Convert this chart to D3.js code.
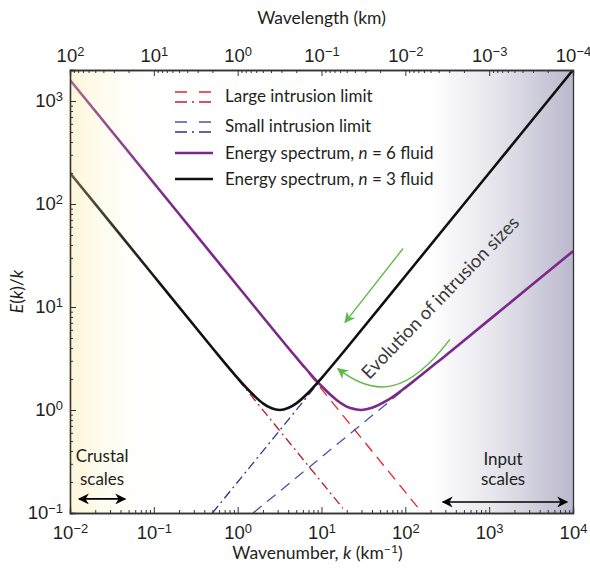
<!DOCTYPE html>
<html>
<head>
<meta charset="utf-8">
<script src="https://cdn.jsdelivr.net/npm/d3@7"></script>
<style>
  body { margin: 0; background: #fff; }
  svg { display: block; font-family: Lato, "Open Sans", sans-serif; }
</style>
</head>
<body>
<div id="chart"></div>
<script>
// ---- data ----
// wavenumber k (km^-1) and E(k)/k for the two spectra
const kN3 = [0.01, 0.1, 0.5, 1, 1.5, 2, 2.5, 3.2, 4, 5, 7, 10, 20, 100, 1000, 10000];
const eN3 = [200, 20, 4.0, 2.04, 1.43, 1.16, 1.045, 1.0, 1.045, 1.16, 1.48, 2.04, 4.0, 20, 200, 2000];
const kN6 = [0.01, 0.1, 1, 5, 10, 15, 20, 25, 30, 40, 60, 100, 300, 1000, 10000];
const eN6 = [1600, 160, 16, 3.24, 1.71, 1.26, 1.08, 1.02, 1.0, 1.05, 1.23, 1.65, 3.37, 7.5, 34.8];

// asymptotic limits (end points)
const largeN3 = [[0.01, 200], [18, 0.111]];
const largeN6 = [[0.01, 1600], [140, 0.114]];
const smallN3 = [[0.5, 0.1], [10000, 2000]];
const smallN6 = [[1.53, 0.1], [10000, 34.8]];

const xTickValues = [1e-2, 1e-1, 1e0, 1e1, 1e2, 1e3, 1e4];
const topTickValues = [1e2, 1e1, 1e0, 1e-1, 1e-2, 1e-3, 1e-4];
const yTickValues = [1e-1, 1e0, 1e1, 1e2, 1e3];

const legendItems = [
  { label: "Large intrusion limit", kind: "large" },
  { label: "Small intrusion limit", kind: "small" },
  { label: "Energy spectrum, ", n: "6", kind: "n6" },
  { label: "Energy spectrum, ", n: "3", kind: "n3" }
];

// annotation anchors (k, E/k)
const arrowStraight = [[94, 37], [19.1, 7.1]];
const arrowCurved = [[340, 4.85], [110, 1.45], [45, 1.28], [15.7, 2.52]];
const crustalArrow = [[0.0128, 0.137], [0.0455, 0.137]];
const inputArrow = [[280, 0.128], [8500, 0.128]];
const evolutionAnchor = [37, 1.95];

// ---- layout ----
const width = 590, height = 568;
const margin = { top: 70, right: 17, bottom: 55, left: 70 };
const colors = {
  n3: "#111",
  n6: "#7b2a8a",
  largeDD: "#bf1e2e",
  largeD: "#e8232b",
  smallDD: "#2b3590",
  smallD: "#4655aa",
  green: "#62b846",
  axis: "#333",
  text: "#231f20"
};

const svg = d3.select("#chart").append("svg")
  .attr("width", width)
  .attr("height", height);

const x = d3.scaleLog()
  .domain([1e-2, 1e4])
  .range([margin.left, width - margin.right]);
const wl = d3.scaleLog()
  .domain([1e2, 1e-4])
  .range([margin.left, width - margin.right]);
const y = d3.scaleLog()
  .domain([1e-1, 2e3])
  .range([height - margin.bottom, margin.top]);

const defs = svg.append("defs");
const gLeft = defs.append("linearGradient").attr("id", "crust");
gLeft.append("stop").attr("offset", 0).attr("stop-color", "#ffe895").attr("stop-opacity", 0.36);
gLeft.append("stop").attr("offset", 0.5).attr("stop-color", "#fff0c0").attr("stop-opacity", 0.14);
gLeft.append("stop").attr("offset", 1).attr("stop-color", "#fff").attr("stop-opacity", 0);
const gRight = defs.append("linearGradient").attr("id", "input");
gRight.append("stop").attr("offset", 0).attr("stop-color", "#fff");
gRight.append("stop").attr("offset", 0.5).attr("stop-color", "#e3e2ea");
gRight.append("stop").attr("offset", 1).attr("stop-color", "#bab8cc");

function marker(id, color, w, h) {
  defs.append("marker")
    .attr("id", id)
    .attr("viewBox", "0 0 10 10")
    .attr("refX", 9).attr("refY", 5)
    .attr("markerUnits", "userSpaceOnUse")
    .attr("markerWidth", w).attr("markerHeight", h)
    .attr("orient", "auto-start-reverse")
    .append("path")
    .attr("d", "M0,0 L10,5 L0,10 L3,5 Z")
    .attr("fill", color);
}
marker("headBlack", "#000", 13, 11);
marker("headGreen", colors.green, 13, 11);

svg.append("clipPath").attr("id", "plot-clip")
  .append("rect")
  .attr("x", margin.left).attr("y", margin.top)
  .attr("width", width - margin.left - margin.right)
  .attr("height", height - margin.top - margin.bottom);

// right-hand shading (under the curves)
svg.append("rect")
  .attr("x", x(200)).attr("y", margin.top)
  .attr("width", x.range()[1] - x(200))
  .attr("height", height - margin.top - margin.bottom)
  .attr("fill", "url(#input)");

const plot = svg.append("g").attr("clip-path", "url(#plot-clip)");
const line = d3.line().x(d => x(d[0])).y(d => y(d[1]));
const smooth = d3.line().x(d => x(d[0])).y(d => y(d[1])).curve(d3.curveCatmullRom.alpha(0.5));

const limits = [
  { pts: largeN3, color: colors.largeDD, dash: "9,4,2,4" },
  { pts: largeN6, color: colors.largeD, dash: "11,7" },
  { pts: smallN3, color: colors.smallDD, dash: "9,4,2,4" },
  { pts: smallN6, color: colors.smallD, dash: "11,7" }
];
plot.selectAll("path.limit")
  .data(limits)
  .join("path")
    .attr("class", "limit")
    .attr("d", d => line(d.pts))
    .attr("fill", "none")
    .attr("stroke", d => d.color)
    .attr("stroke-width", 1.3)
    .attr("stroke-dasharray", d => d.dash);

const spectra = [
  { pts: d3.zip(kN6, eN6), color: colors.n6 },
  { pts: d3.zip(kN3, eN3), color: colors.n3 }
];
plot.selectAll("path.spec")
  .data(spectra)
  .join("path")
    .attr("class", "spec")
    .attr("d", d => smooth(d.pts))
    .attr("fill", "none")
    .attr("stroke", d => d.color)
    .attr("stroke-width", 2.6);

// green evolution arrows
plot.append("path")
  .attr("d", line(arrowStraight))
  .attr("fill", "none")
  .attr("stroke", colors.green)
  .attr("stroke-width", 1.4)
  .attr("marker-end", "url(#headGreen)");
const c = arrowCurved.map(p => [x(p[0]), y(p[1])]);
plot.append("path")
  .attr("d", `M${c[0]}C${c[1]} ${c[2]} ${c[3]}`)
  .attr("fill", "none")
  .attr("stroke", colors.green)
  .attr("stroke-width", 1.4)
  .attr("marker-end", "url(#headGreen)");

// left-hand shading (over the curves)
svg.append("rect")
  .attr("x", margin.left - 1).attr("y", margin.top)
  .attr("width", x(0.15) - margin.left)
  .attr("height", height - margin.top - margin.bottom + 1)
  .attr("fill", "url(#crust)");

// ---- axes ----
function isMajor(d) {
  const l = Math.log10(d);
  return Math.abs(l - Math.round(l)) < 1e-6;
}
function powLabel(sel) {
  sel.each(function(d) {
    const t = d3.select(this).text(null);
    const e = Math.round(Math.log10(d));
    t.append("tspan").text("10");
    t.append("tspan")
      .attr("dy", "-0.48em")
      .attr("font-size", "0.7em")
      .text(String(e).replace("-", "\u2212"));
  });
}
function styleAxis(g) {
  g.selectAll(".domain").attr("stroke", colors.axis).attr("stroke-width", 1.3);
  g.selectAll(".tick line").attr("stroke", colors.axis).attr("stroke-width", 1);
  g.selectAll(".tick text").attr("fill", colors.text).attr("font-size", 18.5).attr("font-family", null);
}

const bottom = height - margin.bottom;
svg.append("g")
  .attr("transform", `translate(0,${bottom})`)
  .call(d3.axisBottom(x).tickValues(x.ticks().filter(d => !isMajor(d))).tickSize(-3).tickFormat(""))
  .call(styleAxis);
svg.append("g")
  .attr("transform", `translate(0,${bottom})`)
  .call(d3.axisBottom(x).tickValues(xTickValues).tickSize(-6).tickPadding(13))
  .call(g => g.selectAll(".tick text").call(powLabel))
  .call(styleAxis);

svg.append("g")
  .attr("transform", `translate(0,${margin.top})`)
  .call(d3.axisTop(wl).tickValues(wl.ticks().filter(d => !isMajor(d))).tickSize(-3).tickFormat(""))
  .call(styleAxis);
svg.append("g")
  .attr("transform", `translate(0,${margin.top})`)
  .call(d3.axisTop(wl).tickValues(topTickValues).tickSize(-6).tickPadding(8))
  .call(g => g.selectAll(".tick text").call(powLabel))
  .call(styleAxis);

svg.append("g")
  .attr("transform", `translate(${margin.left},0)`)
  .call(d3.axisLeft(y).tickValues(y.ticks().filter(d => !isMajor(d))).tickSize(-3).tickFormat(""))
  .call(styleAxis);
svg.append("g")
  .attr("transform", `translate(${margin.left},0)`)
  .call(d3.axisLeft(y).tickValues(yTickValues).tickSize(-6).tickPadding(7))
  .call(g => g.selectAll(".tick text").call(powLabel))
  .call(styleAxis);

svg.append("g")
  .attr("transform", `translate(${width - margin.right},0)`)
  .call(d3.axisRight(y).tickValues([]).tickSizeOuter(0))
  .call(styleAxis);

// axis titles
svg.append("text")
  .attr("x", (x.range()[0] + x.range()[1]) / 2)
  .attr("y", 24)
  .attr("text-anchor", "middle")
  .attr("font-size", 17.5)
  .attr("fill", colors.text)
  .text("Wavelength (km)");

const xt = svg.append("text")
  .attr("x", (x.range()[0] + x.range()[1]) / 2 - 4)
  .attr("y", 559)
  .attr("text-anchor", "middle")
  .attr("font-size", 17.5)
  .attr("fill", colors.text);
xt.append("tspan").text("Wavenumber, ");
xt.append("tspan").attr("font-style", "italic").text("k");
xt.append("tspan").text(" (km");
xt.append("tspan").attr("dy", "-0.48em").attr("font-size", "0.7em").text("\u22121");
xt.append("tspan").attr("dy", "0.34em").text(")");

const yt = svg.append("text")
  .attr("transform", `translate(23,${(y.range()[0] + y.range()[1]) / 2}) rotate(-90)`)
  .attr("text-anchor", "middle")
  .attr("font-size", 17.5)
  .attr("fill", colors.text);
yt.append("tspan").attr("font-style", "italic").text("E");
yt.append("tspan").text("(");
yt.append("tspan").attr("font-style", "italic").text("k");
yt.append("tspan").text(")/");
yt.append("tspan").attr("font-style", "italic").text("k");

// ---- legend ----
const legend = svg.append("g").attr("transform", "translate(175,96)");
const rowY = [0, 30, 57, 83];
const lx0 = 0, lx1 = 38;
legendItems.forEach((d, i) => {
  const g = legend.append("g").attr("transform", `translate(0,${rowY[i]})`);
  if (d.kind === "large" || d.kind === "small") {
    const cD = d.kind === "large" ? colors.largeD : colors.smallD;
    const cDD = d.kind === "large" ? colors.largeDD : colors.smallDD;
    g.append("line").attr("x1", lx0).attr("x2", lx1).attr("y1", -4).attr("y2", -4)
      .attr("stroke", cD).attr("stroke-width", 1.3).attr("stroke-dasharray", "12,12");
    g.append("line").attr("x1", lx0).attr("x2", lx1).attr("y1", 6).attr("y2", 6)
      .attr("stroke", cDD).attr("stroke-width", 1.3).attr("stroke-dasharray", "12,5,2,5");
  } else {
    g.append("line").attr("x1", lx0).attr("x2", lx1).attr("y1", 0).attr("y2", 0)
      .attr("stroke", colors[d.kind]).attr("stroke-width", 2.6);
  }
  const t = g.append("text")
    .attr("x", 50).attr("y", 6)
    .attr("font-size", 17)
    .attr("fill", colors.text);
  t.append("tspan").text(d.label);
  if (d.n) {
    t.append("tspan").attr("font-style", "italic").text("n");
    t.append("tspan").text(" = " + d.n + " fluid");
  }
});

// ---- annotations ----
const mid = (a, b) => Math.sqrt(a * b);
svg.append("path")
  .attr("d", line(crustalArrow))
  .attr("stroke", "#000").attr("stroke-width", 1.6)
  .attr("marker-start", "url(#headBlack)")
  .attr("marker-end", "url(#headBlack)");
svg.append("path")
  .attr("d", line(inputArrow))
  .attr("stroke", "#000").attr("stroke-width", 1.6)
  .attr("marker-start", "url(#headBlack)")
  .attr("marker-end", "url(#headBlack)");

const notes = [
  { text: "Crustal", k: mid(crustalArrow[0][0], crustalArrow[1][0]), v: 0.31 },
  { text: "scales", k: mid(crustalArrow[0][0], crustalArrow[1][0]), v: 0.185 },
  { text: "Input", k: mid(inputArrow[0][0], inputArrow[1][0]) * 0.95, v: 0.29 },
  { text: "scales", k: mid(inputArrow[0][0], inputArrow[1][0]) * 0.95, v: 0.185 }
];
svg.selectAll("text.note")
  .data(notes)
  .join("text")
    .attr("class", "note")
    .attr("x", d => x(d.k))
    .attr("y", d => y(d.v))
    .attr("text-anchor", "middle")
    .attr("font-size", 17)
    .attr("fill", colors.text)
    .text(d => d.text);

svg.append("text")
  .attr("transform", `translate(${x(evolutionAnchor[0])},${y(evolutionAnchor[1])}) rotate(-46)`)
  .attr("font-size", 18.5)
  .attr("fill", "#3a3a3a")
  .text("Evolution of intrusion sizes");
</script>
</body>
</html>
